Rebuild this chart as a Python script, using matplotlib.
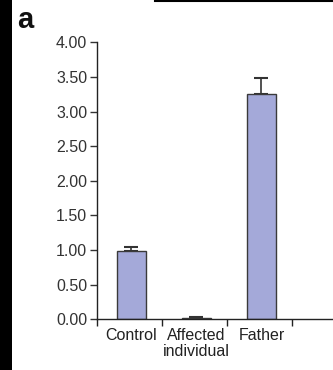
import matplotlib
matplotlib.use('Agg')
import matplotlib.pyplot as plt
import numpy as np

# Data
categories = ['Control', 'Affected\nindividual', 'Father']
values = [0.99, 0.02, 3.26]
errors = [0.05, 0.02, 0.23]
yticks = [0.0, 0.5, 1.0, 1.5, 2.0, 2.5, 3.0, 3.5, 4.0]

plt.rcParams['font.family'] = ['Liberation Sans', 'DejaVu Sans']

fig = plt.figure(figsize=(3.33, 3.70), dpi=100)
fig.patch.set_facecolor('white')

# black strip on the left and thin line at top (page artefacts)
fig.patches.append(plt.Rectangle((0, 0), 12 / 333, 1, transform=fig.transFigure,
                                 facecolor='black', edgecolor='none'))
fig.add_artist(plt.Line2D([155 / 333, 1], [0.998, 0.998], transform=fig.transFigure,
                          color='black', lw=1.5))

fig.text(17 / 333, 1 - 28 / 370, 'a', fontsize=21, fontweight='bold', color='#111111')

ax = fig.add_axes([97 / 333, 50.7 / 370, 260 / 333, 277 / 370])

x = np.arange(len(categories)) + 0.53
ax.bar(x, values, width=0.45, color='#a4a9d9', edgecolor='#3a3a3a', linewidth=1.0, zorder=2)
ax.errorbar(x, values, yerr=[np.zeros(len(errors)), errors], fmt='none',
            ecolor='#333333', elinewidth=1.2, capsize=5, capthick=1.5, zorder=1)

ax.set_xlim(0, 4)
ax.set_ylim(0, 4)
ax.set_yticks(yticks)
ax.set_yticklabels([f'{v:.2f}' for v in yticks])
ax.set_xticks([0, 1, 2, 3, 4])
ax.set_xticklabels([])
ax.set_xticks(x, minor=True)
ax.set_xticklabels(categories, minor=True, linespacing=1.1)
ax.tick_params(axis='x', which='minor', length=0, pad=6, labelsize=11.5, colors='#222222')
ax.tick_params(axis='x', which='major', length=5, width=1, color='#222222')
ax.tick_params(axis='y', length=5, width=1, labelsize=11.5, colors='#333333', pad=2)

for s in ['top', 'right']:
    ax.spines[s].set_visible(False)
for s in ['left', 'bottom']:
    ax.spines[s].set_color('#222222')
    ax.spines[s].set_linewidth(1)

fig.savefig('out.png', dpi=100)
